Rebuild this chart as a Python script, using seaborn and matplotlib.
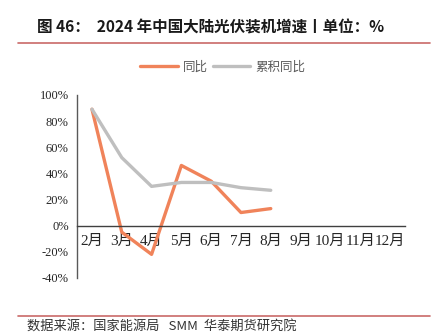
import matplotlib
matplotlib.use("Agg")
import matplotlib.pyplot as plt
from matplotlib.lines import Line2D
import seaborn as sns
import pandas as pd

months = ["2月", "3月", "4月", "5月", "6月", "7月", "8月", "9月", "10月", "11月", "12月"]
yoy = [89, -5, -22, 46, 34, 10, 13]
cum_yoy = [89, 52, 30, 33, 33, 29, 27]
y_ticks = [-40, -20, 0, 20, 40, 60, 80, 100]

sns.set_theme(style="white")
serif_cjk = ["Liberation Serif", "Noto Sans CJK SC"]
sans_cjk = ["Noto Sans CJK SC", "DejaVu Sans"]
plt.rcParams["font.family"] = serif_cjk
plt.rcParams["axes.unicode_minus"] = False

orange = "#F0835A"
gray = "#BFBFBF"
rule_red = "#C96A68"

df = pd.DataFrame({
    "month": months[:len(yoy)],
    "x": range(len(yoy)),
    "同比": yoy,
    "累积同比": cum_yoy,
})

fig = plt.figure(figsize=(4.33, 3.34), dpi=100)
ax = fig.add_axes([0.178, 0.168, 0.757, 0.548])

sns.lineplot(data=df, x="x", y="同比", ax=ax, color=orange, linewidth=2.4, legend=False)
sns.lineplot(data=df, x="x", y="累积同比", ax=ax, color=gray, linewidth=2.4, legend=False)

ax.set_xlim(-0.5, len(months) - 0.5)
ax.set_ylim(-40, 100)
ax.set_xticks(range(len(months)))
ax.set_xticklabels(months, fontfamily=serif_cjk, fontsize=9, color="#262626")
ax.set_yticks(y_ticks)
ax.set_yticklabels([f"{v}%" for v in y_ticks], fontfamily=serif_cjk, fontsize=9,
                   color="#262626")
ax.set_xlabel("")
ax.set_ylabel("")

for side in ["top", "right"]:
    ax.spines[side].set_visible(False)
ax.spines["left"].set_color("#595959")
ax.spines["left"].set_linewidth(1.0)
ax.spines["bottom"].set_position(("data", 0))
ax.spines["bottom"].set_color("#404040")
ax.spines["bottom"].set_linewidth(1.0)
ax.tick_params(axis="x", length=0, pad=7)
ax.tick_params(axis="y", length=0, pad=6)

handles = [Line2D([], [], color=orange, linewidth=2.4),
           Line2D([], [], color=gray, linewidth=2.4)]
fig.legend(handles, ["同比", "累积同比"], loc="center", bbox_to_anchor=(0.515, 0.80),
           ncol=2, frameon=False, handlelength=3.0, handletextpad=0.4,
           columnspacing=0.4, prop={"family": sans_cjk, "size": 9},
           labelcolor="#595959")

fig.text(0.085, 0.918, "图 46：  2024 年中国大陆光伏装机增速丨单位：%",
         fontsize=11.2, fontweight="bold", color="#1a1a1a", va="center",
         family=sans_cjk)
fig.add_artist(Line2D([0.042, 0.993], [0.871, 0.871], transform=fig.transFigure,
                      color=rule_red, linewidth=1.2))
fig.add_artist(Line2D([0.042, 0.993], [0.054, 0.054], transform=fig.transFigure,
                      color=rule_red, linewidth=1.2))
fig.text(0.062, 0.022, "数据来源：国家能源局   SMM  华泰期货研究院",
         fontsize=9.5, color="#333333", va="center", family=sans_cjk)

fig.savefig("out.png", dpi=100)
